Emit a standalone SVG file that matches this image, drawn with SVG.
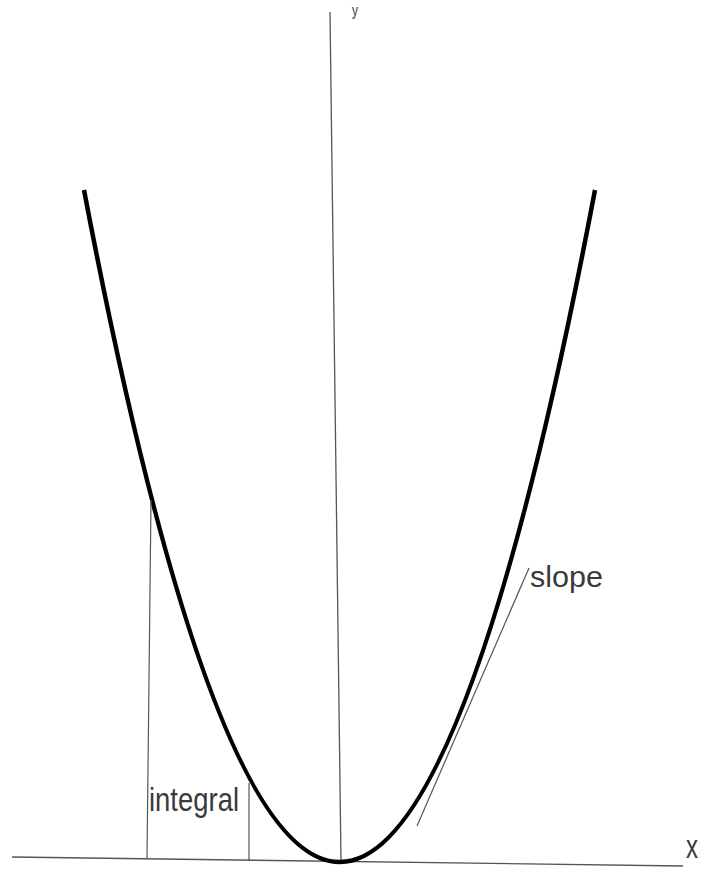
<svg xmlns="http://www.w3.org/2000/svg" width="702" height="869" viewBox="0 0 702 869">
<style>
.axis{stroke:#555;stroke-width:1.3;fill:none}
.thin{stroke:#555;stroke-width:1.2;fill:none}
.curve{stroke:#000;stroke-width:4.5;fill:none;stroke-linecap:butt}
.lbl{font-family:"Liberation Sans",Arial,sans-serif;fill:#3a3a3a}
</style>
<rect width="702" height="869" fill="#fff"/>
<g id="axes">
<line class="axis" x1="12" y1="857" x2="683" y2="866"/>
<line class="axis" x1="330" y1="12" x2="341" y2="862"/>
</g>
<g id="parabola">
<path class="curve" d="M84,190 Q340,1534 595,190"/>
</g>
<g id="connectors">
<line class="thin" x1="151" y1="500" x2="147" y2="858"/>
<line class="thin" x1="249" y1="783" x2="249" y2="861"/>
<line class="thin" x1="529" y1="568" x2="417" y2="826"/>
</g>
<g id="labels">
<text class="lbl" x="352" y="16" font-size="16" textLength="6" lengthAdjust="spacingAndGlyphs">y</text>
<text class="lbl" x="686" y="858" font-size="33" textLength="12" lengthAdjust="spacingAndGlyphs">x</text>
<text class="lbl" x="149" y="811" font-size="33" textLength="90" lengthAdjust="spacingAndGlyphs">integral</text>
<text class="lbl" x="530" y="587" font-size="30" textLength="73" lengthAdjust="spacingAndGlyphs">slope</text>
</g>
</svg>
